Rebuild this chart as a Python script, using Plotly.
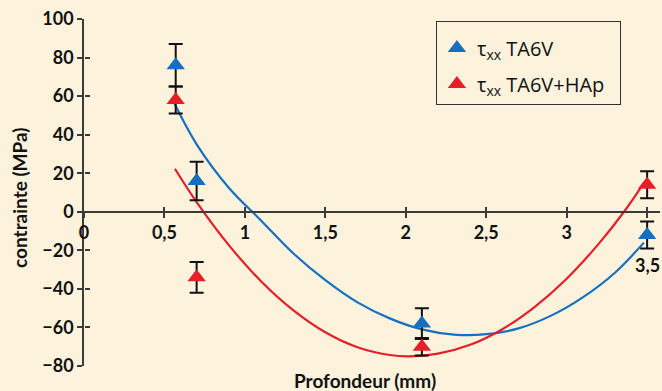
import plotly.graph_objects as go

# ---- data ----
depth = [0.57, 0.70, 2.10, 3.50]
tau_ta6v = [76, 16, -58, -12]
err_ta6v = [11, 10, 8, 7]
tau_hap = [58, -34, -70, 14]
err_hap = [7, 8, 4.5, 7]

# trend curves
fit_ta6v_x = [0.56, 0.70, 0.90, 1.10, 1.30, 1.50, 1.70, 1.90, 2.10, 2.30, 2.50, 2.70, 2.90, 3.10, 3.30, 3.48]
fit_ta6v_y = [56.5, 35, 12.5, -4.5, -21.5, -35.5, -47, -55.3, -61, -63.7, -63.5, -60.5, -54, -44.4, -31.6, -16]
fit_hap_x = [0.565, 0.70, 0.90, 1.10, 1.30, 1.50, 1.70, 1.90, 2.02, 2.20, 2.40, 2.60, 2.80, 3.00, 3.20, 3.36, 3.48]
fit_hap_y = [22.3, 5, -17.3, -36, -51, -62.5, -70.3, -74.3, -75, -73.6, -69, -60.9, -49.4, -34.7, -16.5, 0.4, 15]

x_ticks = [0, 0.5, 1, 1.5, 2, 2.5, 3, 3.5]
x_ticktext = ["0", "0,5", "1", "1,5", "2", "2,5", "3", " "]
y_ticks = [-80, -60, -40, -20, 0, 20, 40, 60, 80, 100]

BG = "#fdf3dc"
BLUE = "#1670c0"
RED = "#e61e27"
AX = "#3a3a3a"
TICKFONT = dict(family="Lato", size=18, color="#111111", weight="bold")

fig = go.Figure()

fig.add_trace(go.Scatter(x=fit_ta6v_x, y=fit_ta6v_y, mode="lines",
                         line=dict(color=BLUE, width=2.2, shape="spline", smoothing=1),
                         showlegend=False, hoverinfo="skip"))
fig.add_trace(go.Scatter(x=fit_hap_x, y=fit_hap_y, mode="lines",
                         line=dict(color=RED, width=2.2, shape="spline", smoothing=1),
                         showlegend=False, hoverinfo="skip"))

fig.add_trace(go.Scatter(x=depth, y=tau_ta6v, mode="markers",
                         name="τ<sub>xx</sub> TA6V", legendgroup="a",
                         marker=dict(symbol="triangle-up", size=16, color=BLUE),
                         error_y=dict(type="data", array=err_ta6v, color="#111111",
                                      thickness=2, width=7)))
fig.add_trace(go.Scatter(x=depth, y=tau_hap, mode="markers",
                         name="τ<sub>xx</sub> TA6V+HAp&nbsp;&nbsp;", legendgroup="b",
                         marker=dict(symbol="triangle-up", size=16, color=RED),
                         error_y=dict(type="data", array=err_hap, color="#111111",
                                      thickness=2, width=7)))

# empty trace for the overlay axes (tick marks crossing the axis lines)
fig.add_trace(go.Scatter(x=[], y=[], xaxis="x2", yaxis="y2", showlegend=False))

ypos = 80 / 180.0

fig.update_layout(
    width=662, height=391,
    margin=dict(l=84, r=2, t=19, b=25),
    paper_bgcolor=BG, plot_bgcolor=BG,
    showlegend=True,
    legend=dict(x=0.611, y=0.994, xanchor="left", yanchor="top",
                bgcolor=BG, bordercolor="#333333", borderwidth=1,
                font=dict(family="Open Sans", size=20, color="#111111"),
                title=dict(text="&nbsp;", font=dict(size=5)),
                tracegroupgap=7),
    xaxis=dict(range=[0, 3.58], anchor="free", position=ypos,
               showline=True, linecolor=AX, linewidth=1.5,
               ticks="outside", ticklen=5, tickwidth=1.5, tickcolor=AX,
               tickvals=x_ticks, ticktext=x_ticktext, tickfont=TICKFONT,
               showgrid=False, zeroline=False, fixedrange=True),
    xaxis2=dict(range=[0, 3.58], overlaying="x", anchor="free", position=ypos,
                showline=False, ticks="inside", ticklen=5, tickwidth=1.5,
                tickcolor=AX, tickvals=x_ticks, showticklabels=False,
                showgrid=False, zeroline=False),
    yaxis=dict(range=[-80, 100], showline=True, linecolor=AX, linewidth=1.5,
               ticks="outside", ticklen=5, tickwidth=1.5, tickcolor=AX,
               tickvals=y_ticks, tickfont=TICKFONT,
               showgrid=False, zeroline=False),
    yaxis2=dict(range=[-80, 100], overlaying="y", anchor="free", position=0,
                showline=False, ticks="inside", ticklen=5, tickwidth=1.5,
                tickcolor=AX, tickvals=y_ticks, showticklabels=False,
                showgrid=False, zeroline=False),
    annotations=[
        dict(text="3,5", x=3.5, y=-27.5, xref="x", yref="y", showarrow=False,
             font=TICKFONT, xanchor="center", yanchor="middle"),
        dict(text="<b>Profondeur (mm)</b>", x=0.488, y=-0.043, xref="paper", yref="paper",
             showarrow=False, font=dict(family="Lato", size=19, color="#111111"),
             xanchor="center", yanchor="middle"),
        dict(text="<b>contrainte (MPa)</b>", x=-0.113, y=0.487, xref="paper", yref="paper",
             showarrow=False, textangle=-90,
             font=dict(family="Lato", size=19, color="#111111"),
             xanchor="center", yanchor="middle"),
    ],
)

fig.write_html("out.html")
